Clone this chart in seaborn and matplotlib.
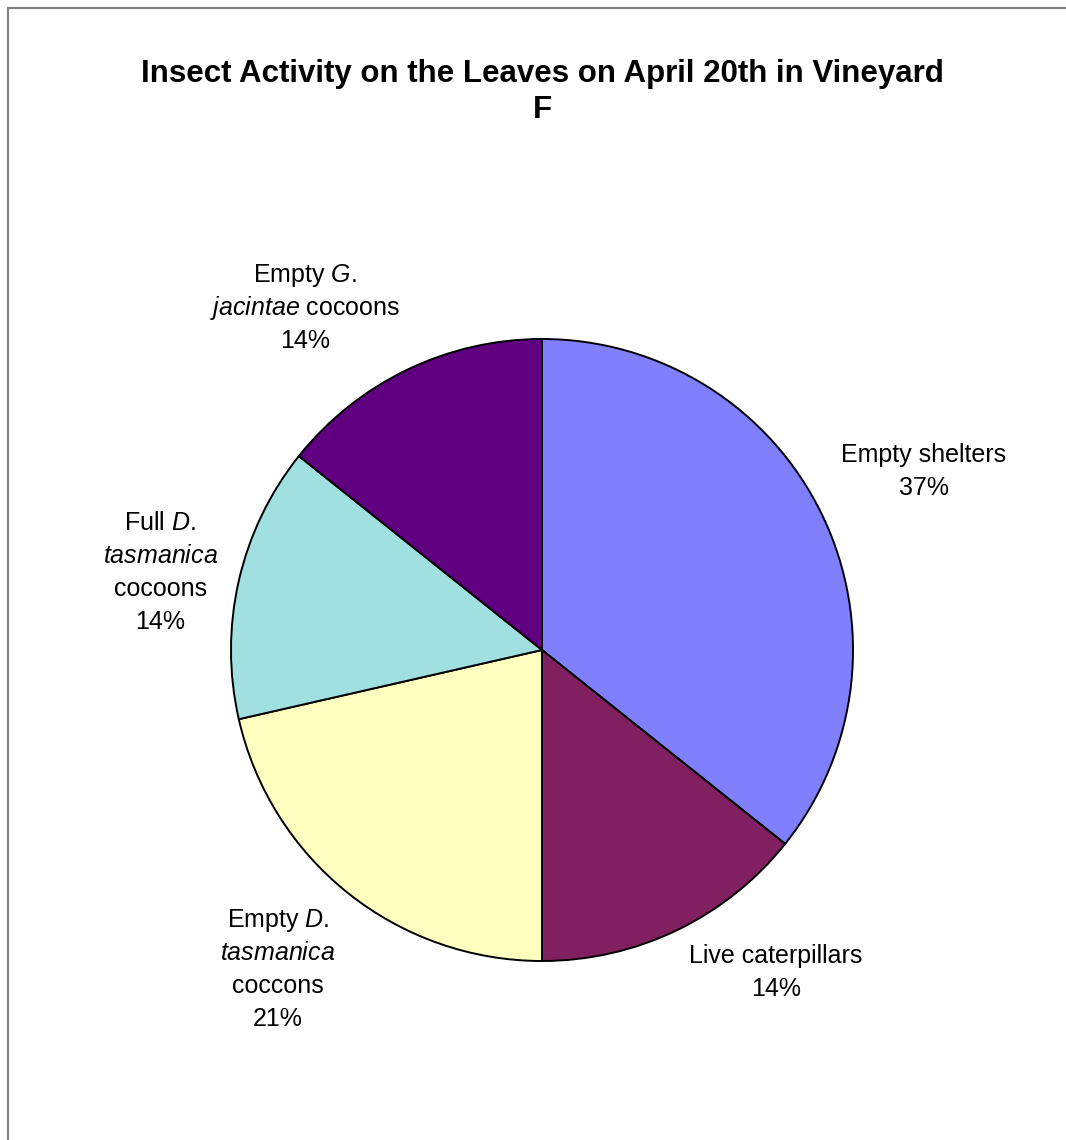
# Insect activity pie chart - vineyard F

import matplotlib
matplotlib.use("Agg")
import matplotlib.pyplot as plt
import matplotlib.patches as mpatches
import seaborn as sns

sns.set_theme(style="white")
plt.rcParams["font.family"] = ["Liberation Sans", "DejaVu Sans"]
plt.rcParams["text.color"] = "black"
plt.rcParams["mathtext.fontset"] = "custom"
plt.rcParams["mathtext.rm"] = "Liberation Sans"
plt.rcParams["mathtext.it"] = "Liberation Sans:italic"

# ----------------------------------------------------------
# DATOS
# ----------------------------------------------------------

categorias = [
    ["Empty shelters"],
    ["Live caterpillars"],
    ["Empty $\\mathit{D.}$", "$\\mathit{tasmanica}$", "coccons"],
    ["Full $\\mathit{D.}$", "$\\mathit{tasmanica}$", "cocoons"],
    ["Empty $\\mathit{G.}$", "$\\mathit{jacintae}$ cocoons"],
]
conteos = [5, 2, 3, 2, 2]
porcentajes = ["37%", "14%", "21%", "14%", "14%"]

colores = sns.color_palette(["#8080FF", "#802060", "#FFFFC0", "#A0E0E0", "#600080"])

# posicion de la primera linea de cada etiqueta (unidades de radio)
pos_etiquetas = [
    (1.228, 0.605),
    (0.752, -1.006),
    (-0.849, -0.891),
    (-1.228, 0.386),
    (-0.762, 1.183),
]

titulo = ["Insect Activity on the Leaves on April 20th in Vineyard", "F"]

# ----------------------------------------------------------
# FIGURA
# ----------------------------------------------------------

W, H = 1066, 1140
fig = plt.figure(figsize=(W / 100, H / 100), dpi=100)
ax = fig.add_axes([0, 0, 1, 1])

cx, cy, r = 542, 650, 311
paso = 33 / r   # interlineado de etiquetas

ax.pie(
    conteos,
    colors=colores,
    startangle=90,
    counterclock=False,
    wedgeprops={"edgecolor": "black", "linewidth": 1.4},
)

ax.set_aspect("auto")
ax.set_xlim(-cx / r, (W - cx) / r)
ax.set_ylim(-(H - cy) / r, cy / r)
ax.axis("off")

for lineas, pct, (x, y) in zip(categorias, porcentajes, pos_etiquetas):
    for i, linea in enumerate(lineas + [pct]):
        ax.text(
            x, y - i * paso, linea,
            ha="center", va="baseline",
            fontsize=18,
        )

for i, linea in enumerate(titulo):
    fig.text(
        cx / W, 1 - (82 + i * 36) / H, linea,
        ha="center", va="baseline",
        fontsize=22.5, fontweight="bold",
    )

# borde del area del grafico
borde = mpatches.Rectangle(
    (8 / W, -0.1), 2, 1.1 - 8 / H,
    transform=fig.transFigure,
    fill=False, edgecolor="#808080", linewidth=1.5,
)
fig.add_artist(borde)

plt.savefig("out.png", dpi=100)
plt.close()
